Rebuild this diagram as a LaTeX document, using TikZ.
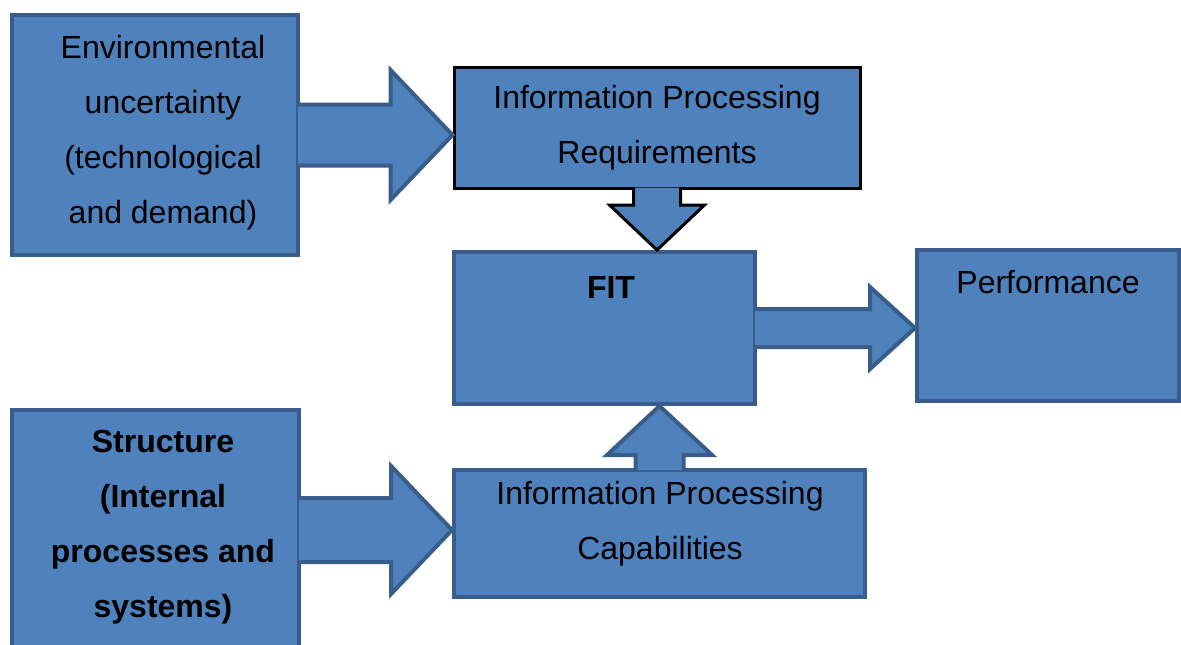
\documentclass[tikz,border=0pt]{standalone}
\usepackage{fontspec}
\setmainfont{Liberation Sans}
\usetikzlibrary{calc}

\definecolor{boxblue}{RGB}{79,129,189}
\definecolor{boxline}{RGB}{56,93,138}

\tikzset{
  box/.style={draw=boxline, fill=boxblue, line width=2pt, inner sep=0pt},
  txt/.style={align=center, font=\fontsize{16}{27.5}\selectfont, inner sep=0pt},
  arrowfill/.style={fill=boxblue},
  arrowline/.style={draw=boxline, line width=2pt},
}

% block arrow: [outline] tail, tip, half shaft, half head, head length
\newcommand{\blockarrow}[6][arrowline]{%
  \coordinate (ba-tip) at (#3);
  \coordinate (ba-tail) at ($(#2)!-1pt!(ba-tip)$);
  \coordinate (ba-base) at ($(ba-tip)!#6!(ba-tail)$);
  \path[arrowfill] ($(ba-tail)!#4!90:(ba-tip)$) -- ($(ba-base)!#4!90:(ba-tip)$)
    -- ($(ba-base)!#5!90:(ba-tip)$) -- (ba-tip) -- ($(ba-base)!#5!-90:(ba-tip)$)
    -- ($(ba-base)!#4!-90:(ba-tip)$) -- ($(ba-tail)!#4!-90:(ba-tip)$) -- cycle;
  \draw[#1] ($(ba-tail)!#4!90:(ba-tip)$) -- ($(ba-base)!#4!90:(ba-tip)$)
    -- ($(ba-base)!#5!90:(ba-tip)$) -- (ba-tip) -- ($(ba-base)!#5!-90:(ba-tip)$)
    -- ($(ba-base)!#4!-90:(ba-tip)$) -- ($(ba-tail)!#4!-90:(ba-tip)$);
}

\begin{document}
\begin{tikzpicture}[x=0.5pt,y=-0.5pt]
  \clip (0,0) rectangle (1181,644);

  % boxes
  \node[box, minimum width=143pt, minimum height=120pt] (env) at (155,135) {};
  \node[box, draw=black, line width=1.5pt, minimum width=203pt, minimum height=60.5pt] (ipr) at (657,127.5) {};
  \node[box, minimum width=150.5pt, minimum height=76pt] (fit) at (604.5,328) {};
  \node[box, minimum width=131pt, minimum height=75.5pt] (perf) at (1048,325.5) {};
  \node[box, minimum width=143.5pt, minimum height=120pt] (str) at (155.5,530) {};
  \node[box, minimum width=205.5pt, minimum height=63.5pt] (ipc) at (659.5,533.5) {};

  % arrows
  \blockarrow{env.east}{ipr.west |- env.east}{15.25pt}{32.5pt}{31pt}
  \blockarrow[draw=black, line width=1.5pt]{ipr.south}{ipr.south |- fit.north}{11.75pt}{23.75pt}{22.5pt}
  \blockarrow{fit.east}{perf.west |- fit.east}{9.5pt}{20.5pt}{22.5pt}
  \blockarrow{ipc.north}{ipc.north |- fit.south}{12pt}{26.25pt}{24.5pt}
  \blockarrow{str.east}{ipc.west |- str.east}{16pt}{32pt}{30.5pt}

  % labels
  \node[txt] (envtext) at (163,133) {Environmental\\uncertainty\\(technological\\and demand)};
  \node[txt] (iprtext) at (657,128) {Information Processing\\Requirements};
  \node[txt, font=\fontsize{16}{27.5}\selectfont\bfseries] (fittext) at (611,287) {FIT};
  \node[txt] (perftext) at (1048,282) {Performance};
  \node[txt, font=\fontsize{16}{27.5}\selectfont\bfseries] (strtext) at (163,527) {Structure\\(Internal\\processes and\\systems)};
  \node[txt] (ipctext) at (660,524) {Information Processing\\Capabilities};

\end{tikzpicture}
\end{document}
